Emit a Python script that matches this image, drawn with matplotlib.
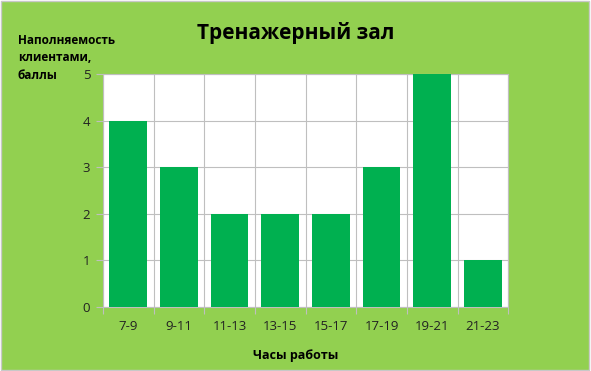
import matplotlib
matplotlib.use("Agg")
import matplotlib.pyplot as plt
from matplotlib.patches import Rectangle
import numpy as np

categories = ["7-9", "9-11", "11-13", "13-15", "15-17", "17-19", "19-21", "21-23"]
values = [4, 3, 2, 2, 2, 3, 5, 1]
y_ticks = [0, 1, 2, 3, 4, 5]

plt.rcParams['font.family'] = ['Open Sans', 'DejaVu Sans']

BG = "#92D050"
BAR = "#00B050"
GRID = "#BFBFBF"

fig = plt.figure(figsize=(5.91, 3.71), dpi=100)
fig.patch.set_facecolor("white")
fig.add_artist(Rectangle((0.002, 0.004), 0.994, 0.992, transform=fig.transFigure,
                         facecolor=BG, edgecolor="#C8C8C8", linewidth=1.0, zorder=-10))

ax = fig.add_axes([0.174, 0.1725, 0.686, 0.628])
ax.set_facecolor("white")
x = np.arange(len(categories))
ax.bar(x, values, width=0.74, color=BAR, zorder=3)
ax.set_xlim(-0.5, len(categories) - 0.5)
ax.set_ylim(0, 5)

ax.set_yticks(y_ticks)
ax.set_yticklabels([str(v) for v in y_ticks], fontsize=9.5, color="#222222")
ax.set_xticks(x)
ax.set_xticklabels(categories, fontsize=9.5, color="#222222")
ax.tick_params(axis='x', length=0, pad=9)
ax.tick_params(axis='y', length=5, color=GRID, width=0.8, pad=4)

# category boundary gridlines and ticks
bounds = np.arange(len(categories) + 1) - 0.5
ax.set_xticks(bounds, minor=True)
ax.tick_params(axis='x', which='minor', length=5, color=GRID, width=0.8)
ax.grid(True, axis='x', which='minor', color=GRID, linewidth=0.8, zorder=1)
ax.grid(True, axis='y', which='major', color=GRID, linewidth=0.8, zorder=1)
ax.grid(False, axis='x', which='major')
ax.set_axisbelow(True)
for s in ax.spines.values():
    s.set_color(GRID)
    s.set_linewidth(0.8)

fig.text(0.5, 0.91, "Тренажерный зал", ha="center", va="center",
         fontsize=15, fontweight="bold", color="black")
fig.text(0.5, 0.043, "Часы работы", ha="center", va="center",
         fontsize=9, fontweight="bold", color="black")
fig.text(0.03, 0.892, "Наполняемость", ha="left", va="center", fontsize=8.5, fontweight="bold")
fig.text(0.03, 0.845, "клиентами,", ha="left", va="center", fontsize=8.5, fontweight="bold")
fig.text(0.03, 0.797, "баллы", ha="left", va="center", fontsize=8.5, fontweight="bold")

fig.savefig("out.png", dpi=100, facecolor=fig.get_facecolor())
